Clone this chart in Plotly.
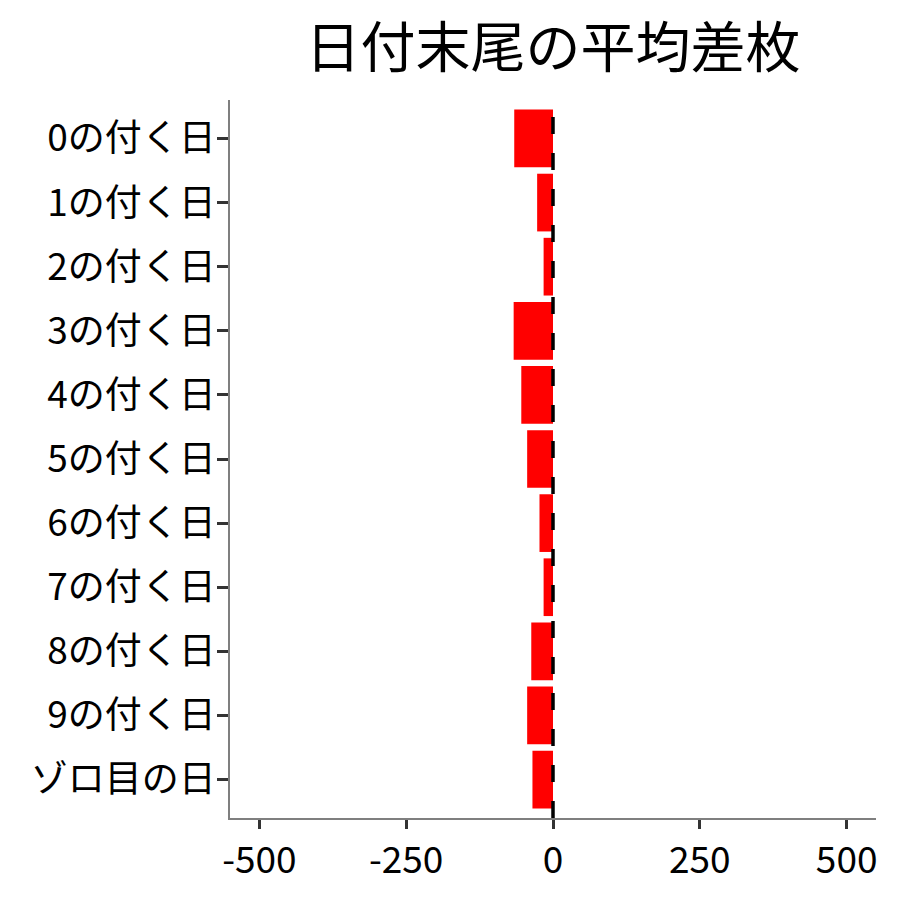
import plotly.graph_objects as go

# 日付末尾ごとの平均差枚
categories = [
    "0の付く日", "1の付く日", "2の付く日", "3の付く日", "4の付く日",
    "5の付く日", "6の付く日", "7の付く日", "8の付く日", "9の付く日",
    "ゾロ目の日",
]
avg_diff = [-66, -27, -16, -67, -54, -44, -23, -16, -37, -44, -35]
x_ticks = [-500, -250, 0, 250, 500]

font = "Noto Sans CJK JP"

fig = go.Figure()
fig.add_trace(go.Bar(
    x=avg_diff,
    y=categories,
    orientation="h",
    marker_color="#ff0000",
    marker_line_width=0,
    width=0.9,
    showlegend=False,
))

fig.add_vline(x=0, line_dash="17px,19px", line_color="black", line_width=3.5)

fig.update_layout(
    width=900,
    height=900,
    title=dict(text="日付末尾の平均差枚", x=545 / 900, xanchor="center",
               y=1 - 40 / 900, yanchor="middle", font=dict(size=55, color="black")),
    font=dict(family=font, size=37, color="black"),
    plot_bgcolor="white",
    paper_bgcolor="white",
    margin=dict(l=222, r=32, t=92, b=90),
    bargap=0.1,
)
fig.update_xaxes(
    range=[-550, 550],
    tickvals=x_ticks,
    ticktext=[str(v) for v in x_ticks],
    showgrid=False,
    zeroline=False,
    showline=True,
    linecolor="#7f7f7f",
    linewidth=1.5,
    ticks="outside",
    ticklen=9,
    tickwidth=2.5,
    tickcolor="#333333",
)
fig.update_yaxes(
    categoryorder="array",
    categoryarray=categories,
    range=[10.6, -0.6],
    showgrid=False,
    zeroline=False,
    showline=True,
    linecolor="#7f7f7f",
    linewidth=1.5,
    ticks="outside",
    ticklen=11,
    tickwidth=2.5,
    tickcolor="#333333",
    ticklabelstandoff=-6,
)

fig.write_html("out.html")
